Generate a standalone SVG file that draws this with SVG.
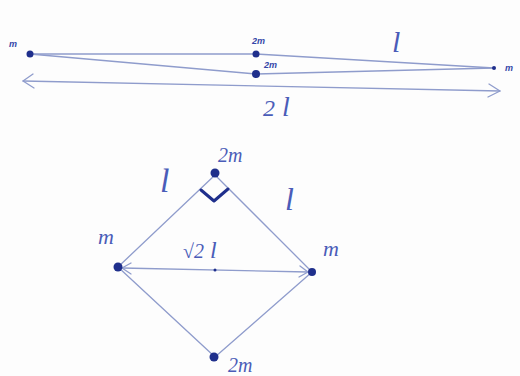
<svg xmlns="http://www.w3.org/2000/svg" width="520" height="376" viewBox="0 0 520 376">
<defs>
<style>
.ln{stroke:#8f9ccc;stroke-width:1.3;fill:none;stroke-linecap:round}
.arw{stroke:#8f9ccc;stroke-width:1.3;fill:none;stroke-linecap:round;stroke-linejoin:round}
.dot{fill:#1f2f8c}
.t{font-family:"Liberation Serif",serif;font-style:italic;fill:#4a5cb8}
.ts{font-family:"Liberation Sans",sans-serif;font-style:italic;fill:#3447a8;font-weight:bold;font-size:9px}
</style>
</defs>
<rect width="520" height="376" fill="#fdfdfd"/>
<g id="connectors">
<path class="ln" d="M30 54 L256 54"/>
<path class="ln" d="M30 54 L256 74"/>
<path class="ln" d="M256 54 L494 68"/>
<path class="ln" d="M256 74 L494 68"/>
<path class="arw" d="M23 81 L500 91"/>
<path class="arw" d="M33 74 L23 81 L34 88"/>
<path class="arw" d="M489 84 L500 91 L488 97"/>
<path class="ln" d="M215 175 L118 267"/>
<path class="ln" d="M215 175 L312 272"/>
<path class="ln" d="M118 267 L215 357"/>
<path class="ln" d="M312 272 L215 357"/>
<path class="arw" d="M122 268 L308 272"/>
<path class="arw" d="M131 263 L122 268 L131 274"/>
<path class="arw" d="M300 266 L308 272 L299 277"/>
<path d="M201 190 L214 201 L228 189" stroke="#1f2f8c" stroke-width="3" fill="none" stroke-linejoin="round" stroke-linecap="round"/>
</g>
<g id="top-left-m"><circle class="dot" cx="30" cy="54" r="3.5"/><text class="ts" x="9" y="47">m</text></g>
<g id="top-2m-upper"><circle class="dot" cx="256" cy="54" r="3.5"/><text class="ts" x="252" y="44">2m</text></g>
<g id="top-2m-lower"><circle class="dot" cx="256" cy="74" r="4"/><text class="ts" x="264" y="68">2m</text></g>
<g id="top-right-m"><circle class="dot" cx="494" cy="68" r="2"/><text class="ts" x="505" y="71">m</text></g>
<text class="t" x="392" y="52" font-size="30">l</text>
<text class="t" x="263" y="116" font-size="24">2</text>
<text class="t" x="282" y="116" font-size="28">l</text>
<g id="rh-top-2m"><circle class="dot" cx="215" cy="173" r="4.5"/><text class="t" x="218" y="162" font-size="20">2m</text></g>
<g id="rh-left-m"><circle class="dot" cx="118" cy="267" r="4.5"/><text class="t" x="98" y="244" font-size="22">m</text></g>
<g id="rh-right-m"><circle class="dot" cx="312" cy="272" r="4"/><text class="t" x="323" y="256" font-size="22">m</text></g>
<g id="rh-bottom-2m"><circle class="dot" cx="214" cy="357" r="4.5"/><text class="t" x="228" y="372" font-size="20">2m</text></g>
<circle class="dot" cx="215" cy="270" r="1.5"/>
<text class="t" x="160" y="192" font-size="34">l</text>
<text class="t" x="285" y="210" font-size="32">l</text>
<text class="t" x="183" y="258" font-size="20">√2</text>
<text class="t" x="210" y="258" font-size="24">l</text>
</svg>
